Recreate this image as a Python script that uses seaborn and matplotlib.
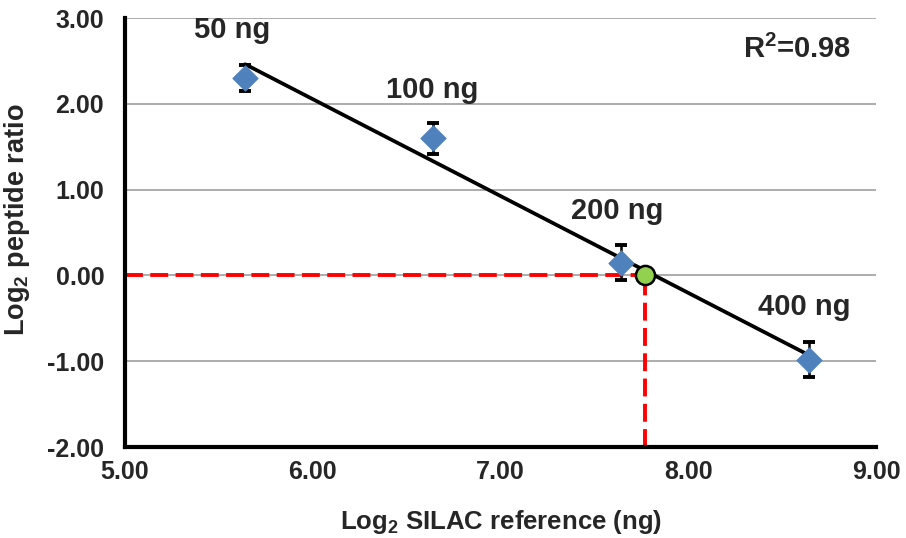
import numpy as np
import pandas as pd
import seaborn as sns
import matplotlib
matplotlib.use("Agg")
import matplotlib.pyplot as plt

# ---- data ----
amount_labels = ["50 ng", "100 ng", "200 ng", "400 ng"]
log2_reference = [5.64, 6.64, 7.64, 8.64]
log2_ratio = [2.30, 1.60, 0.15, -0.98]
ratio_err = [0.15, 0.18, 0.20, 0.20]
intercept_x = 7.77
r2_text = "R$^2$=0.98"
x_ticks = [5.0, 6.0, 7.0, 8.0, 9.0]
y_ticks = [-2.0, -1.0, 0.0, 1.0, 2.0, 3.0]

df = pd.DataFrame({"x": log2_reference, "y": log2_ratio, "err": ratio_err, "label": amount_labels})

sns.set_style("white")
plt.rcParams["font.family"] = ["Liberation Sans", "DejaVu Sans"]
plt.rcParams["font.weight"] = "bold"
plt.rcParams["mathtext.default"] = "regular"

fig = plt.figure(figsize=(9.06, 5.38), dpi=100)
ax = fig.add_axes([0.138, 0.169, 0.829, 0.7975])

# grid
for yt in y_ticks:
    if yt > -2:
        ax.axhline(yt, color="#A6A6A6", lw=1.3, zorder=0)

# red dashed guide lines
ax.plot([5.0, intercept_x], [0, 0], color="#FF0000", lw=2.8, ls=(0, (4.6, 1.9)), zorder=1)
ax.plot([intercept_x, intercept_x], [-2.0, 0], color="#FF0000", lw=2.8, ls=(0, (4.6, 1.9)), zorder=1)

# regression line
sns.regplot(data=df, x="x", y="y", ax=ax, scatter=False, ci=None, truncate=True,
            line_kws=dict(color="black", lw=2.7, zorder=3))

# error bars
ax.errorbar(df["x"], df["y"], yerr=df["err"], fmt="none", ecolor="black",
            elinewidth=1.8, capsize=4.5, capthick=2.8, zorder=4)

# points
sns.scatterplot(data=df, x="x", y="y", ax=ax, marker="D", s=170, color="#4F81BD",
                edgecolor="#4F81BD", linewidth=0.5, zorder=5, legend=False)

# intercept point
ax.scatter([intercept_x], [0], s=190, color="#92D050", edgecolor="black", linewidth=1.8, zorder=6)

# annotations
label_pos = [(5.57, 2.86), (6.635, 2.16), (7.62, 0.75), (8.62, -0.37)]
for (lx, ly), t in zip(label_pos, df["label"]):
    ax.text(lx, ly, t, ha="center", va="center", fontsize=21, fontweight="bold")
ax.text(8.58, 2.63, r2_text, ha="center", va="center", fontsize=21, fontweight="bold")

ax.set_xlim(5.0, 9.0)
ax.set_ylim(-2.0, 3.0)
ax.set_xticks(x_ticks)
ax.set_yticks(y_ticks)
ax.set_xticklabels([f"{v:.2f}" for v in x_ticks], fontsize=18, fontweight="bold")
ax.set_yticklabels([f"{v:.2f}" for v in y_ticks], fontsize=18, fontweight="bold")
ax.tick_params(axis="both", direction="out", length=5, width=2.2, color="black")
ax.tick_params(axis="y", pad=10)
ax.tick_params(axis="x", pad=4)

for s in ["top", "right"]:
    ax.spines[s].set_visible(False)
for s in ["left", "bottom"]:
    ax.spines[s].set_linewidth(3)
    ax.spines[s].set_color("black")

ax.set_xlabel("Log$_2$ SILAC reference (ng)", fontsize=18.5, fontweight="bold")
ax.set_ylabel("Log$_2$ peptide ratio", fontsize=19.5, fontweight="bold")
ax.xaxis.set_label_coords(0.5, -0.143)
ax.yaxis.set_label_coords(-0.124, 0.53)

fig.savefig("out.png", dpi=100)
